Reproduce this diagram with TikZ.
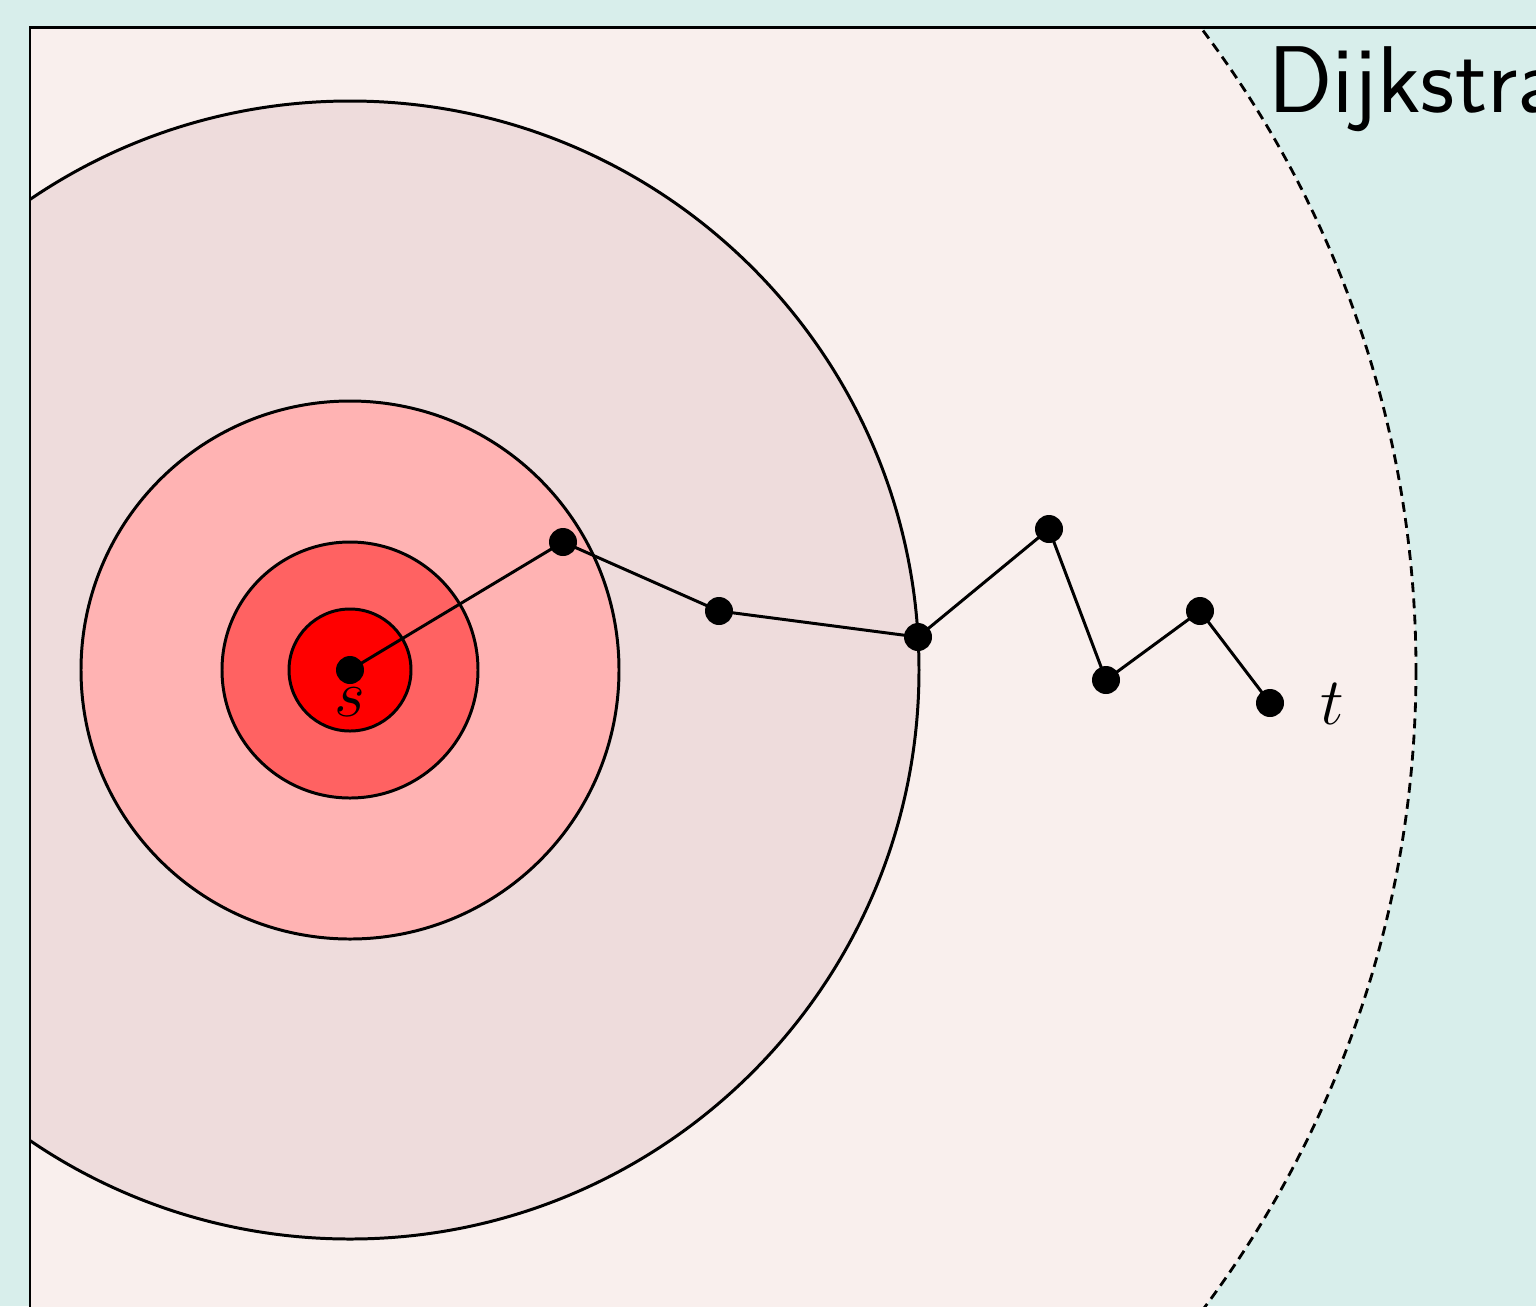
\RequirePackage{fix-cm}
\documentclass[tikz,border=0pt]{standalone}
\usepackage{fontspec}
\definecolor{bgteal}{HTML}{D8EEEB}
\definecolor{palepink}{HTML}{F9EFED}
\definecolor{ringA}{HTML}{EEDCDC}
\definecolor{ringB}{HTML}{FFB3B3}
\definecolor{ringC}{HTML}{FF6262}
\definecolor{ringD}{HTML}{FF0000}
\tikzset{
  ring/.style={draw=black, line width=1.7pt},
  vtx/.style={circle, fill=black, inner sep=0pt, minimum size=0.56cm},
  edge/.style={draw=black, line width=1.7pt},
  lbl/.style={font=\fontsize{38}{45}\selectfont, inner sep=0pt}
}
\begin{document}
\begin{tikzpicture}[x=0.02cm, y=-0.02cm]
\useasboundingbox (0,0) rectangle (1536,1306);
\fill[bgteal] (0,0) rectangle (1536,1306);
\begin{scope}
  \clip (30,27) rectangle (1600,1340);
  \fill[palepink] (350,670) circle[radius=1066];
  \draw[line width=1.6pt, dash pattern=on 5.6pt off 3.6pt] (350,670) circle[radius=1066];
  \draw[ring, fill=ringA] (350,670) circle[radius=569];
  \draw[ring, fill=ringB] (350,670) circle[radius=269];
  \draw[ring, fill=ringC] (350,670) circle[radius=128];
  \draw[ring, fill=ringD] (350,670) circle[radius=61];
\end{scope}
\draw[line width=1.7pt] (1600,27) -- (30,27) -- (30,1340);
\node[vtx] (s) at (350,670) {};
\node[vtx] (a) at (563,542) {};
\node[vtx] (b) at (719,611) {};
\node[vtx] (c) at (918,637) {};
\node[vtx] (d) at (1049,529) {};
\node[vtx] (e) at (1106,680) {};
\node[vtx] (f) at (1200,611) {};
\node[vtx] (t) at (1270,703) {};
\draw[edge] (s.center) -- (a.center) -- (b.center) -- (c.center) -- (d.center) -- (e.center) -- (f.center) -- (t.center);
\node[lbl, anchor=base] (slbl) at (350,716) {$s$};
\node[lbl, anchor=base] (tlbl) at (1332,724) {$t$};
\node[anchor=base west, inner sep=0pt, font=\sffamily\fontsize{54}{64}\selectfont] (title) at (1268,112) {Dijkstra};
\end{tikzpicture}
\end{document}
